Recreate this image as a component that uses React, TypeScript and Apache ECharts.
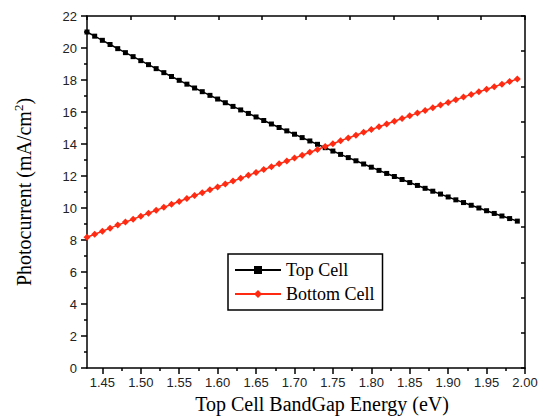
import React, { useEffect, useRef } from "react";
import * as echarts from "echarts";

const bandGap: number[] = [
  1.43, 1.44, 1.45, 1.46, 1.47, 1.48, 1.49, 1.5, 1.51, 1.52, 1.53, 1.54, 1.55, 1.56, 1.57, 1.58, 1.59, 1.6, 1.61,
  1.62, 1.63, 1.64, 1.65, 1.66, 1.67, 1.68, 1.69, 1.7, 1.71, 1.72, 1.73, 1.74, 1.75, 1.76, 1.77, 1.78, 1.79, 1.8,
  1.81, 1.82, 1.83, 1.84, 1.85, 1.86, 1.87, 1.88, 1.89, 1.9, 1.91, 1.92, 1.93, 1.94, 1.95, 1.96, 1.97, 1.98, 1.99,
];

const topCell: number[] = [
  21.0, 20.74, 20.48, 20.22, 19.96, 19.71, 19.46, 19.21, 18.96, 18.71, 18.46, 18.22, 17.98, 17.74, 17.5, 17.27,
  17.04, 16.81, 16.58, 16.35, 16.13, 15.91, 15.69, 15.47, 15.25, 15.03, 14.82, 14.61, 14.4, 14.19, 13.98, 13.77,
  13.56, 13.35, 13.15, 12.95, 12.75, 12.55, 12.35, 12.16, 11.97, 11.78, 11.59, 11.41, 11.23, 11.05, 10.87, 10.69,
  10.51, 10.34, 10.17, 10.0, 9.83, 9.66, 9.5, 9.34, 9.18,
];

const bottomCell: number[] = [
  8.17, 8.36, 8.55, 8.74, 8.93, 9.12, 9.3, 9.49, 9.67, 9.86, 10.04, 10.23, 10.41, 10.59, 10.78, 10.96, 11.14,
  11.32, 11.5, 11.68, 11.86, 12.04, 12.22, 12.4, 12.58, 12.76, 12.94, 13.12, 13.3, 13.48, 13.66, 13.84, 14.02,
  14.2, 14.38, 14.55, 14.73, 14.9, 15.08, 15.25, 15.42, 15.59, 15.76, 15.93, 16.1, 16.27, 16.44, 16.6, 16.77,
  16.93, 17.1, 17.26, 17.42, 17.58, 17.74, 17.9, 18.06,
];

const xMajorTicks: number[] = [1.45, 1.5, 1.55, 1.6, 1.65, 1.7, 1.75, 1.8, 1.85, 1.9, 1.95, 2.0];
const xMinorTicks: number[] = [1.475, 1.525, 1.575, 1.625, 1.675, 1.725, 1.775, 1.825, 1.875, 1.925, 1.975];

const X_MIN = 1.43;
const X_MAX = 2.0;

export default function App() {
  const ref = useRef<HTMLDivElement>(null);

  useEffect(() => {
    if (!ref.current) return;
    const chart = echarts.init(ref.current, undefined, { renderer: "svg" });
    const axisColor = "#000";
    const lineStyle = { color: axisColor, width: 1.5 };
    const labelFont = { fontFamily: "Liberation Sans", fontSize: 13, color: "#222" };
    const serif = "Liberation Serif";

    chart.setOption({
      animation: false,
      backgroundColor: "#fff",
      grid: { left: 87, right: 15, top: 16, bottom: 48, containLabel: false, outerBoundsMode: "none" },
      legend: {
        orient: "vertical",
        left: 228,
        top: 254,
        width: 160,
        padding: [7, 8, 7, 6],
        borderColor: "#000",
        borderWidth: 1.5,
        itemWidth: 46,
        itemHeight: 10,
        itemGap: 6,
        textStyle: { fontFamily: serif, fontSize: 18, color: "#000", padding: [0, 0, 0, 0] },
        data: ["Top Cell", "Bottom Cell"],
      },
      xAxis: [
        {
          type: "value",
          min: X_MIN,
          max: X_MAX,
          position: "bottom",
          name: "Top Cell BandGap Energy (eV)",
          nameLocation: "middle",
          nameGap: 25,
          nameTextStyle: { fontFamily: serif, fontSize: 20, color: "#000", padding: [0, 0, 0, 32] },
          axisLine: { show: true, onZero: false, lineStyle },
          axisTick: { show: true, inside: false, length: 6, lineStyle, customValues: xMajorTicks },
          axisLabel: {
            ...labelFont,
            margin: 8,
            customValues: xMajorTicks,
            formatter: (v: number) => v.toFixed(2),
          },
          splitLine: { show: false },
        },
        {
          type: "value",
          min: X_MIN,
          max: X_MAX,
          position: "bottom",
          axisLine: { show: false, onZero: false },
          axisTick: { show: true, inside: false, length: 3, lineStyle, customValues: xMinorTicks },
          axisLabel: { show: false, customValues: xMinorTicks },
          splitLine: { show: false },
        },
        {
          type: "value",
          min: 0,
          max: 10,
          interval: 1,
          position: "top",
          axisLine: { show: true, onZero: false, lineStyle },
          axisTick: { show: true, inside: true, length: 4, lineStyle },
          axisLabel: { show: false },
          splitLine: { show: false },
        },
      ],
      yAxis: [
        {
          type: "value",
          min: 0,
          max: 22,
          interval: 2,
          position: "left",
          name: "Photocurrent (mA/cm{sup|2})",
          nameLocation: "middle",
          nameGap: 52,
          nameTextStyle: {
            fontFamily: serif,
            fontSize: 20,
            color: "#000",
            rich: { sup: { fontFamily: serif, fontSize: 13, color: "#000", verticalAlign: "top", padding: [0, 0, 10, 0] } },
          },
          axisLine: { show: true, onZero: false, lineStyle },
          axisTick: { show: true, inside: false, length: 6, lineStyle },
          minorTick: { show: true, splitNumber: 2, length: 3, lineStyle },
          axisLabel: { ...labelFont, margin: 10 },
          splitLine: { show: false },
          minorSplitLine: { show: false },
        },
        {
          type: "value",
          min: 0,
          max: 10,
          interval: 1,
          position: "right",
          axisLine: { show: true, onZero: false, lineStyle },
          axisTick: { show: true, inside: true, length: 4, lineStyle },
          axisLabel: { show: false },
          splitLine: { show: false },
        },
      ],
      series: [
        {
          name: "Top Cell",
          type: "line",
          xAxisIndex: 0,
          yAxisIndex: 0,
          data: bandGap.map((x, i) => [x, topCell[i]]),
          symbol: "rect",
          symbolSize: 5,
          itemStyle: { color: "#000" },
          lineStyle: { color: "#000", width: 1.5 },
        },
        {
          name: "Bottom Cell",
          type: "line",
          xAxisIndex: 0,
          yAxisIndex: 0,
          data: bandGap.map((x, i) => [x, bottomCell[i]]),
          symbol: "diamond",
          symbolSize: 7,
          itemStyle: { color: "#ff2a12" },
          lineStyle: { color: "#ff2a12", width: 1.5 },
        },
      ],
    });
    return () => chart.dispose();
  }, []);

  return <div ref={ref} style={{ width: 540, height: 416, position: "absolute", left: 0, top: 0 }} />;
}
